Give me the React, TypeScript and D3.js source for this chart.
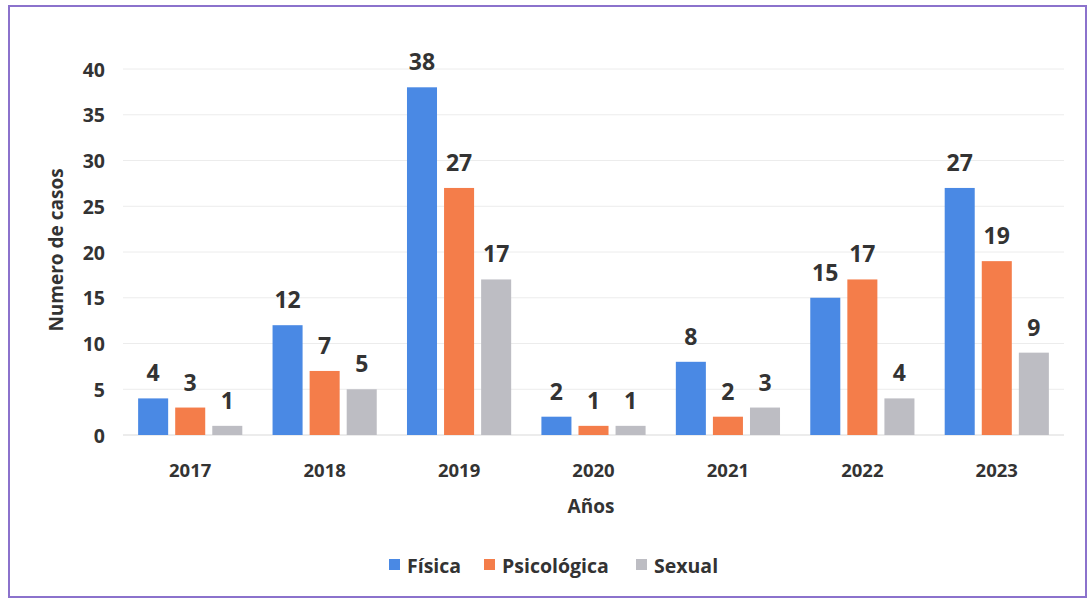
import React from "react";
import * as d3 from "d3";

const years = ["2017", "2018", "2019", "2020", "2021", "2022", "2023"];
const seriesNames = ["Física", "Psicológica", "Sexual"];
const fisica = [4, 12, 38, 2, 8, 15, 27];
const psicologica = [3, 7, 27, 1, 2, 17, 19];
const sexual = [1, 5, 17, 1, 3, 4, 9];
const yTicks = [0, 5, 10, 15, 20, 25, 30, 35, 40];
const colors = ["#4a89e4", "#f47d4a", "#bdbdc3"];

const W = 1091;
const H = 602;
const FONT = "'Open Sans', 'DejaVu Sans', sans-serif";
const TXT = "#333333";

export default function App() {
  const series = [fisica, psicologica, sexual];
  const x = d3.scaleBand<string>().domain(years).range([123, 1064]).paddingInner(0.225).paddingOuter(0.1125);
  const xi = d3.scaleBand<string>().domain(seriesNames).range([0, x.bandwidth()]).paddingInner(0.19);
  const y = d3.scaleLinear().domain([0, 40]).range([435, 69]);

  return (
    <svg width={W} height={H} style={{ position: "absolute", left: 0, top: 0, display: "block", background: "#fff" }}>
      <rect x={9} y={6} width={1077} height={591} fill="#fff" stroke="#8b72cc" strokeWidth={2} />
      {yTicks.map((t) => (
        <g key={t}>
          <line x1={123} x2={1064} y1={y(t)} y2={y(t)} stroke={t === 0 ? "#d9d9d9" : "#ececec"} strokeWidth={1} />
          <text x={105} y={y(t)} textAnchor="end" dominantBaseline="central" fontFamily={FONT} fontWeight={700} fontSize={19.5} fill={TXT}>
            {t}
          </text>
        </g>
      ))}
      {years.map((yr, i) => (
        <g key={yr} transform={`translate(${x(yr)},0)`}>
          {series.map((s, j) => {
            const bx = xi(seriesNames[j]) as number;
            const top = y(s[i]);
            return (
              <g key={j}>
                <rect x={bx} y={top} width={xi.bandwidth()} height={y(0) - top} fill={colors[j]} />
                <text x={bx + xi.bandwidth() / 2} y={top - 26} textAnchor="middle" dominantBaseline="central" fontFamily={FONT} fontWeight={700} fontSize={23} fill={TXT}>
                  {s[i]}
                </text>
              </g>
            );
          })}
          <text x={x.bandwidth() / 2} y={469} textAnchor="middle" dominantBaseline="central" fontFamily={FONT} fontWeight={700} fontSize={18.5} fill={TXT}>
            {yr}
          </text>
        </g>
      ))}
      <text transform={`translate(56,250) rotate(-90)`} textAnchor="middle" dominantBaseline="central" fontFamily={FONT} fontWeight={700} fontSize={19} fill={TXT}>
        Numero de casos
      </text>
      <text x={591} y={506} textAnchor="middle" dominantBaseline="central" fontFamily={FONT} fontWeight={700} fontSize={19} fill={TXT}>
        Años
      </text>
      {(() => {
        const items = [
          { name: seriesNames[0], sx: 389 },
          { name: seriesNames[1], sx: 484 },
          { name: seriesNames[2], sx: 636 },
        ];
        return items.map((it, j) => (
          <g key={it.name}>
            <rect x={it.sx} y={559} width={11} height={11} fill={colors[j]} />
            <text x={it.sx + 18} y={565} dominantBaseline="central" fontFamily={FONT} fontWeight={700} fontSize={19.5} fill={TXT}>
              {it.name}
            </text>
          </g>
        ));
      })()}
    </svg>
  );
}
